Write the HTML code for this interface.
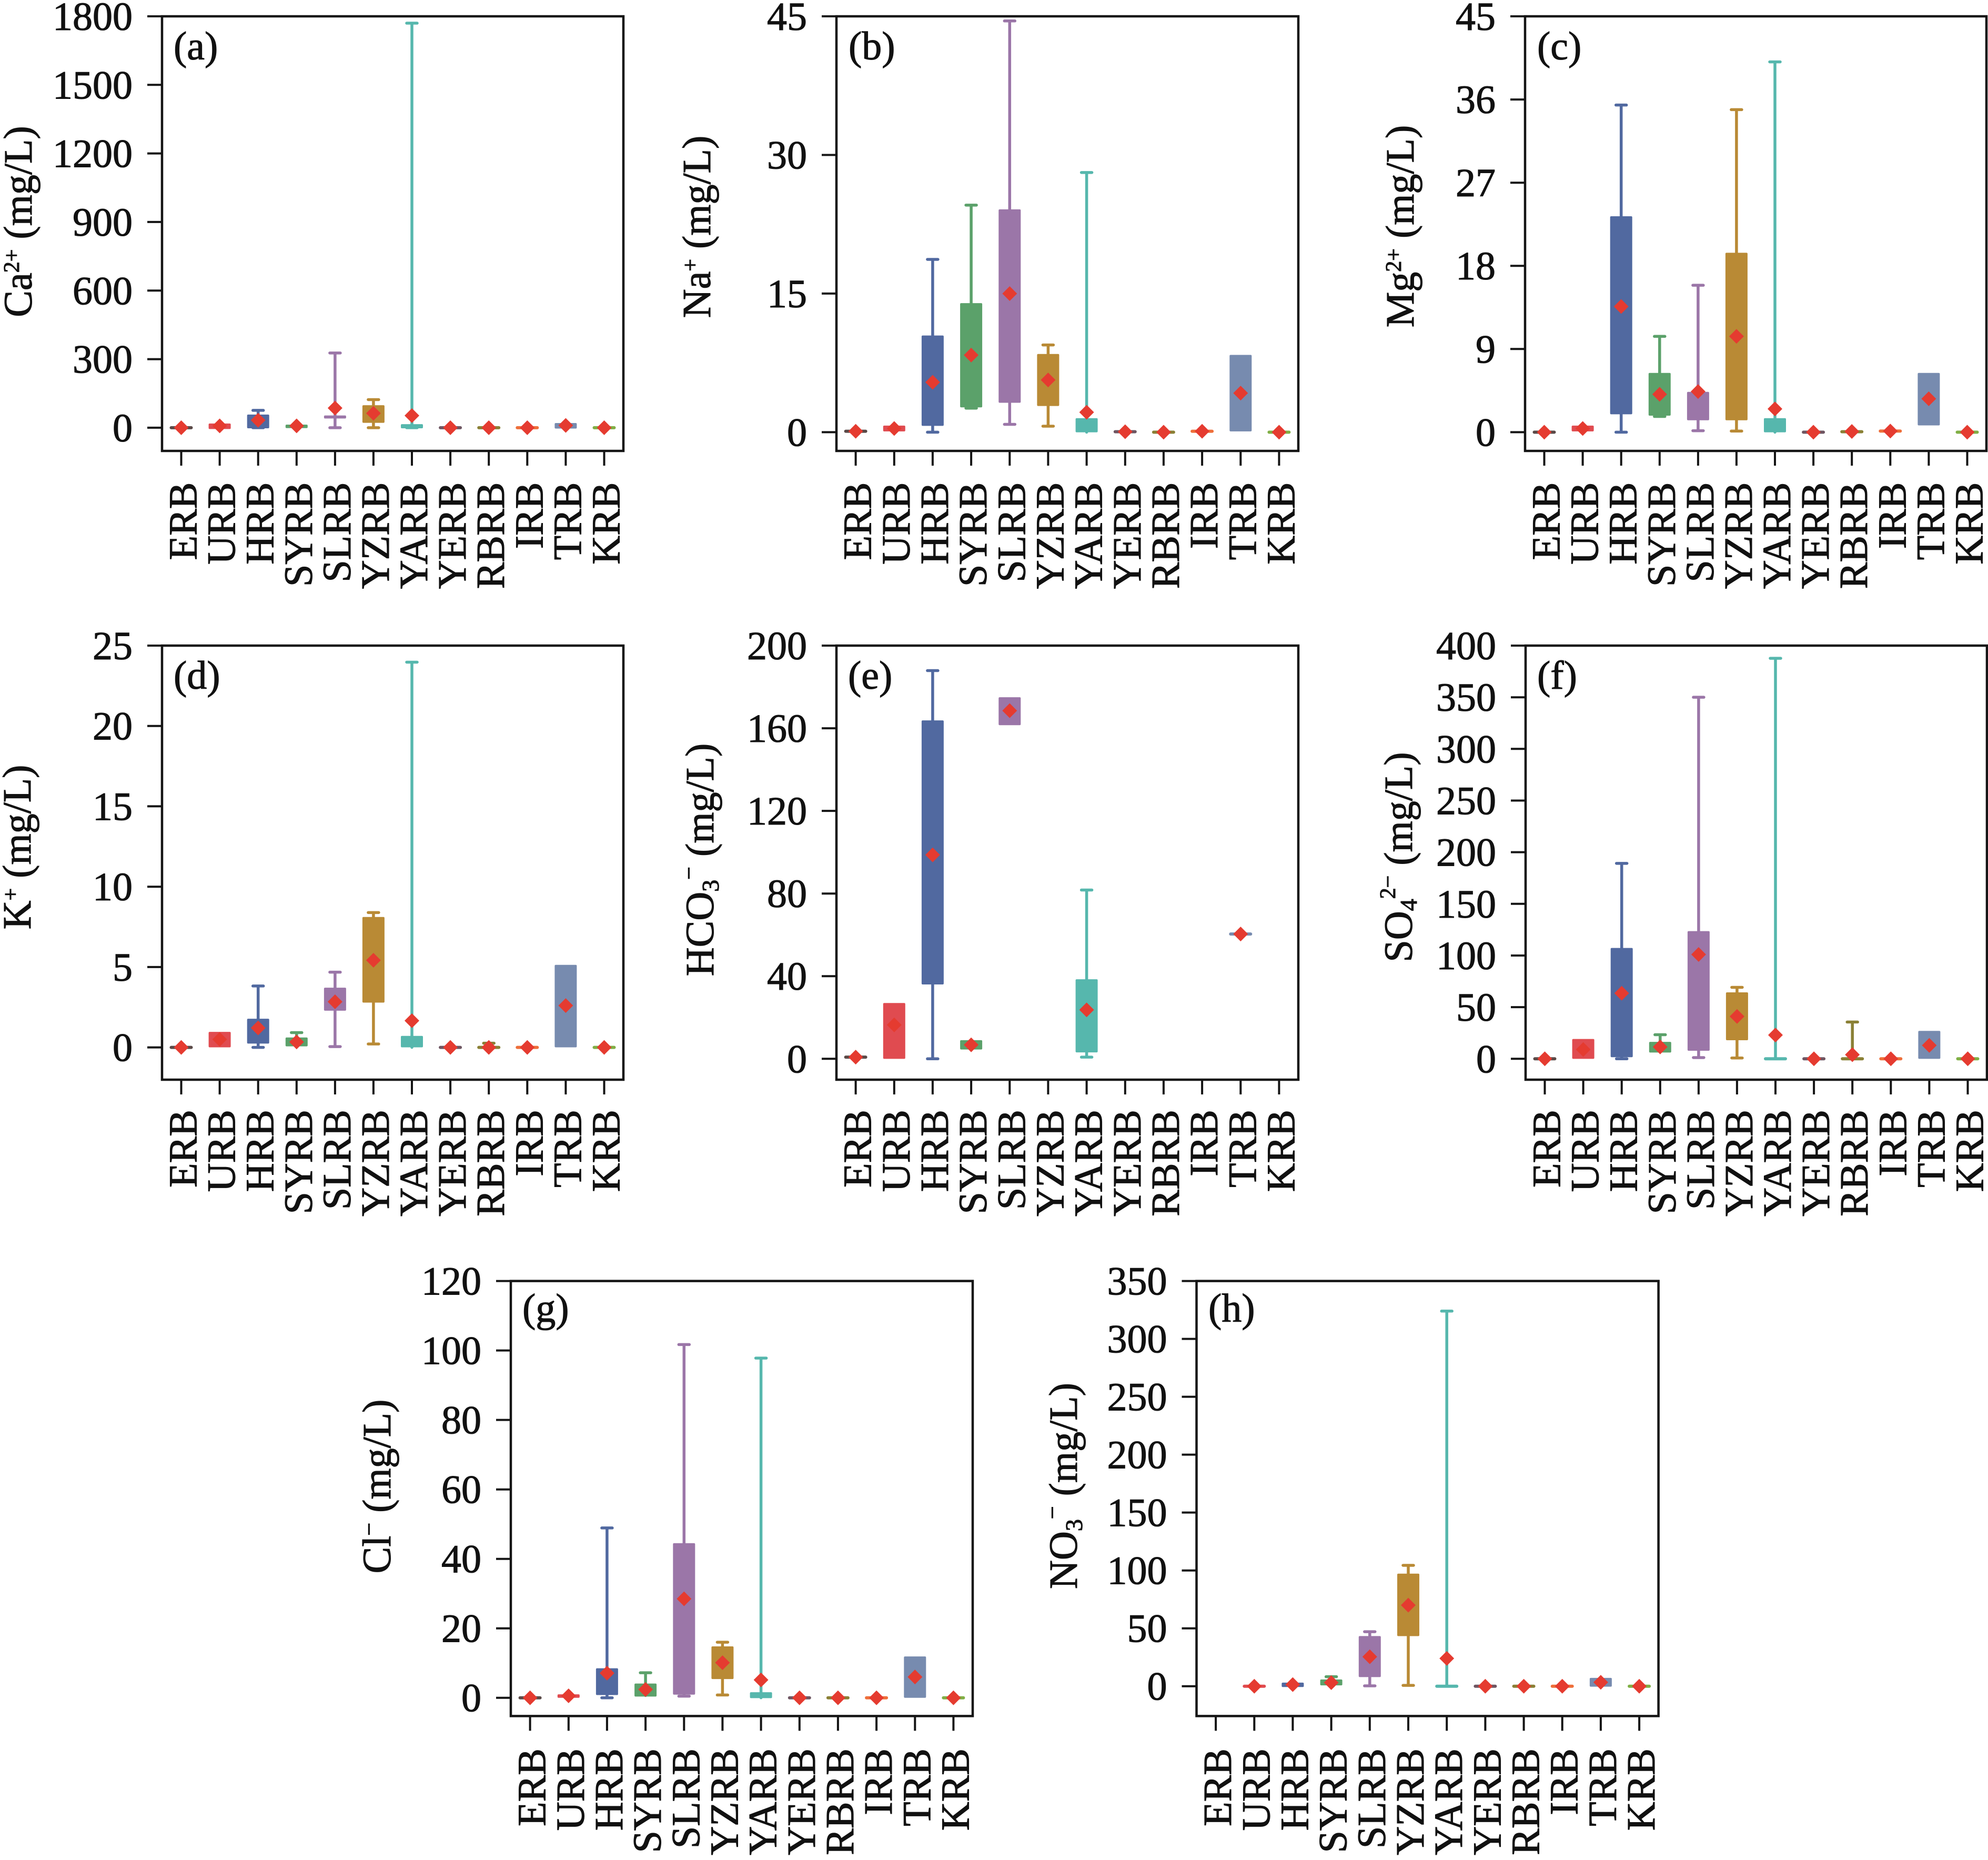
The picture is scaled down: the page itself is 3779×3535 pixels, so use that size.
<!DOCTYPE html>
<html><head><meta charset="utf-8"><style>
html,body{margin:0;padding:0;background:#fff;}
body{width:3779px;height:3535px;overflow:hidden;}
svg{display:block;}
text{font-family:"Liberation Serif","Times New Roman",serif;font-size:76px;fill:#111;stroke:#111;stroke-width:1.1px;}
.yt{text-anchor:end;}
.xt{text-anchor:end;}
.yl{text-anchor:middle;}
.fr{fill:none;stroke:#141414;stroke-width:4.5;}
.tk{fill:none;stroke:#141414;stroke-width:4;}
.w{fill:none;stroke:currentColor;stroke-width:5.5;stroke-linecap:round;vector-effect:non-scaling-stroke;}
.bx{fill:currentColor;stroke:currentColor;stroke-width:4;stroke-linejoin:round;vector-effect:non-scaling-stroke;}
.fl{fill:none;stroke:currentColor;stroke-width:6;stroke-linecap:round;vector-effect:non-scaling-stroke;}
.k0{color:#5a4a48}.k1{color:#e04b50}.k2{color:#5169a0}.k3{color:#5ba16a}.k4{color:#9b76a8}.k5{color:#b98a35}
.k6{color:#56b7ad}.k7{color:#6e5662}.k8{color:#8a8035}.k9{color:#ee6f3a}.k10{color:#778baf}.k11{color:#80af45}
</style></head><body>
<svg width="3779" height="3535" viewBox="0 0 3779 3535" xmlns="http://www.w3.org/2000/svg">
<defs><path id="m" d="M0,-14L14,0L0,14L-14,0Z" fill="#e53b30"/></defs>
<rect width="3779" height="3535" fill="#fff"/>

<!-- ===== Panel a ===== -->
<g transform="translate(0,812.9) scale(1,-0.43439)">
<g class="k0" transform="translate(344.5,0)"><path class="fl" d="M-19,0H19"/><use href="#m" transform="translate(0,0) scale(1,2.3021)"/></g>
<g class="k1" transform="translate(417.6,0)"><rect class="bx" x="-19" y="-1" width="38" height="15"/><use href="#m" transform="translate(0,8) scale(1,2.3021)"/></g>
<g class="k2" transform="translate(490.7,0)"><path class="w" d="M0,0V76M-10,0H10M-10,76H10"/><rect class="bx" x="-19" y="2" width="38" height="51"/><use href="#m" transform="translate(0,33) scale(1,2.3021)"/></g>
<g class="k3" transform="translate(563.8,0)"><rect class="bx" x="-19" y="3" width="38" height="6"/><use href="#m" transform="translate(0,8) scale(1,2.3021)"/></g>
<g class="k4" transform="translate(636.9,0)"><path class="w" d="M0,0V327M-10,0H10M-10,327H10"/><rect class="bx" x="-19" y="45" width="38" height="4"/><use href="#m" transform="translate(0,86) scale(1,2.3021)"/></g>
<g class="k5" transform="translate(709.9,0)"><path class="w" d="M0,0V123M-10,0H10M-10,123H10"/><rect class="bx" x="-19" y="26" width="38" height="68"/><use href="#m" transform="translate(0,63) scale(1,2.3021)"/></g>
<g class="k6" transform="translate(783.0,0)"><path class="w" d="M0,0V1770M-10,0H10M-10,1770H10"/><rect class="bx" x="-19" y="2" width="38" height="9"/><use href="#m" transform="translate(0,53) scale(1,2.3021)"/></g>
<g class="k7" transform="translate(856.1,0)"><path class="fl" d="M-19,0H19"/><use href="#m" transform="translate(0,0) scale(1,2.3021)"/></g>
<g class="k8" transform="translate(929.2,0)"><path class="fl" d="M-19,0H19"/><use href="#m" transform="translate(0,0) scale(1,2.3021)"/></g>
<g class="k9" transform="translate(1002.3,0)"><path class="fl" d="M-19,0H19"/><use href="#m" transform="translate(0,0) scale(1,2.3021)"/></g>
<g class="k10" transform="translate(1075.4,0)"><rect class="bx" x="-19" y="1" width="38" height="15"/><use href="#m" transform="translate(0,10) scale(1,2.3021)"/></g>
<g class="k11" transform="translate(1148.5,0)"><path class="fl" d="M-19,0H19"/><use href="#m" transform="translate(0,0) scale(1,2.3021)"/></g>
</g>
<rect class="fr" x="308" y="31" width="877" height="826"/>
<path class="tk" d="M280,31H308M280,161.3H308M280,291.6H308M280,421.9H308M280,552.3H308M280,682.6H308M280,812.9H308"/>
<path class="tk" d="M344.5,857v28M417.6,857v28M490.7,857v28M563.8,857v28M636.9,857v28M709.9,857v28M783,857v28M856.1,857v28M929.2,857v28M1002.3,857v28M1075.4,857v28M1148.5,857v28"/>
<text class="yt" x="252" y="57">1800</text>
<text class="yt" x="252" y="187.3">1500</text>
<text class="yt" x="252" y="317.6">1200</text>
<text class="yt" x="252" y="447.9">900</text>
<text class="yt" x="252" y="578.3">600</text>
<text class="yt" x="252" y="708.6">300</text>
<text class="yt" x="252" y="838.9">0</text>
<text x="330" y="113">(a)</text>
<text class="yl" transform="translate(60,421) rotate(-90)">Ca<tspan font-size="42" dy="-24">2+</tspan><tspan dy="24"> (mg/L)</tspan></text>
<g transform="translate(0,916.5)">
<text class="xt" transform="translate(373.5,0) rotate(-90)">ERB</text>
<text class="xt" transform="translate(446.6,0) rotate(-90)">URB</text>
<text class="xt" transform="translate(519.7,0) rotate(-90)">HRB</text>
<text class="xt" transform="translate(592.8,0) rotate(-90)">SYRB</text>
<text class="xt" transform="translate(665.9,0) rotate(-90)">SLRB</text>
<text class="xt" transform="translate(738.9,0) rotate(-90)">YZRB</text>
<text class="xt" transform="translate(812,0) rotate(-90)">YARB</text>
<text class="xt" transform="translate(885.1,0) rotate(-90)">YERB</text>
<text class="xt" transform="translate(958.2,0) rotate(-90)">RBRB</text>
<text class="xt" transform="translate(1031.3,0) rotate(-90)">IRB</text>
<text class="xt" transform="translate(1104.4,0) rotate(-90)">TRB</text>
<text class="xt" transform="translate(1177.5,0) rotate(-90)">KRB</text>
</g>

<!-- ===== Panel b ===== -->
<g transform="translate(0,821.4) scale(1,-17.564)">
<g class="k0" transform="translate(1626.6,0)"><path class="fl" d="M-19,0.1H19"/><use href="#m" transform="translate(0,0.1) scale(1,0.056935)"/></g>
<g class="k1" transform="translate(1699.8,0)"><rect class="bx" x="-19" y="0.2" width="38" height="0.4"/><use href="#m" transform="translate(0,0.4) scale(1,0.056935)"/></g>
<g class="k2" transform="translate(1772.9,0)"><path class="w" d="M0,0V18.7M-10,0H10M-10,18.7H10"/><rect class="bx" x="-19" y="0.8" width="38" height="9.55"/><use href="#m" transform="translate(0,5.4) scale(1,0.056935)"/></g>
<g class="k3" transform="translate(1846.1,0)"><path class="w" d="M0,2.6V24.57M-10,2.6H10M-10,24.57H10"/><rect class="bx" x="-19" y="2.8" width="38" height="11.05"/><use href="#m" transform="translate(0,8.34) scale(1,0.056935)"/></g>
<g class="k4" transform="translate(1919.3,0)"><path class="w" d="M0,0.85V44.5M-10,0.85H10M-10,44.5H10"/><rect class="bx" x="-19" y="3.3" width="38" height="20.7"/><use href="#m" transform="translate(0,15) scale(1,0.056935)"/></g>
<g class="k5" transform="translate(1992.4,0)"><path class="w" d="M0,0.65V9.44M-10,0.65H10M-10,9.44H10"/><rect class="bx" x="-19" y="2.95" width="38" height="5.4"/><use href="#m" transform="translate(0,5.65) scale(1,0.056935)"/></g>
<g class="k6" transform="translate(2065.6,0)"><path class="w" d="M0,0V28.1M-10,28.1H10"/><rect class="bx" x="-19" y="0.1" width="38" height="1.3"/><use href="#m" transform="translate(0,2.16) scale(1,0.056935)"/></g>
<g class="k7" transform="translate(2138.8,0)"><path class="fl" d="M-19,0.05H19"/><use href="#m" transform="translate(0,0.05) scale(1,0.056935)"/></g>
<g class="k8" transform="translate(2211.9,0)"><path class="fl" d="M-19,0H19"/><use href="#m" transform="translate(0,0) scale(1,0.056935)"/></g>
<g class="k9" transform="translate(2285.1,0)"><path class="fl" d="M-19,0.1H19"/><use href="#m" transform="translate(0,0.1) scale(1,0.056935)"/></g>
<g class="k10" transform="translate(2358.3,0)"><rect class="bx" x="-19" y="0.2" width="38" height="8.05"/><use href="#m" transform="translate(0,4.23) scale(1,0.056935)"/></g>
<g class="k11" transform="translate(2431.4,0)"><path class="fl" d="M-19,0H19"/><use href="#m" transform="translate(0,0) scale(1,0.056935)"/></g>
</g>
<rect class="fr" x="1590" y="31" width="878" height="826"/>
<path class="tk" d="M1562,31H1590M1562,294.5H1590M1562,557.9H1590M1562,821.4H1590"/>
<path class="tk" d="M1626.6,857v28M1699.8,857v28M1772.9,857v28M1846.1,857v28M1919.3,857v28M1992.4,857v28M2065.6,857v28M2138.8,857v28M2211.9,857v28M2285.1,857v28M2358.3,857v28M2431.4,857v28"/>
<text class="yt" x="1534" y="57">45</text>
<text class="yt" x="1534" y="320.5">30</text>
<text class="yt" x="1534" y="583.9">15</text>
<text class="yt" x="1534" y="847.4">0</text>
<text x="1613" y="113">(b)</text>
<text class="yl" transform="translate(1350,431) rotate(-90)">Na<tspan font-size="42" dy="-24">+</tspan><tspan dy="24"> (mg/L)</tspan></text>
<g transform="translate(0,916.5)">
<text class="xt" transform="translate(1655.6,0) rotate(-90)">ERB</text>
<text class="xt" transform="translate(1728.8,0) rotate(-90)">URB</text>
<text class="xt" transform="translate(1801.9,0) rotate(-90)">HRB</text>
<text class="xt" transform="translate(1875.1,0) rotate(-90)">SYRB</text>
<text class="xt" transform="translate(1948.3,0) rotate(-90)">SLRB</text>
<text class="xt" transform="translate(2021.4,0) rotate(-90)">YZRB</text>
<text class="xt" transform="translate(2094.6,0) rotate(-90)">YARB</text>
<text class="xt" transform="translate(2167.8,0) rotate(-90)">YERB</text>
<text class="xt" transform="translate(2240.9,0) rotate(-90)">RBRB</text>
<text class="xt" transform="translate(2314.1,0) rotate(-90)">IRB</text>
<text class="xt" transform="translate(2387.3,0) rotate(-90)">TRB</text>
<text class="xt" transform="translate(2460.4,0) rotate(-90)">KRB</text>
</g>

<!-- ===== Panel c ===== -->
<g transform="translate(0,821.4) scale(1,-17.564)">
<g class="k0" transform="translate(2935.5,0)"><path class="fl" d="M-19,0H19"/><use href="#m" transform="translate(0,0) scale(1,0.056935)"/></g>
<g class="k1" transform="translate(3008.6,0)"><rect class="bx" x="-19" y="0.2" width="38" height="0.4"/><use href="#m" transform="translate(0,0.4) scale(1,0.056935)"/></g>
<g class="k2" transform="translate(3081.7,0)"><path class="w" d="M0,0V35.4M-10,0H10M-10,35.4H10"/><rect class="bx" x="-19" y="2.05" width="38" height="21.2"/><use href="#m" transform="translate(0,13.6) scale(1,0.056935)"/></g>
<g class="k3" transform="translate(3154.8,0)"><path class="w" d="M0,1.7V10.37M-10,1.7H10M-10,10.37H10"/><rect class="bx" x="-19" y="1.9" width="38" height="4.4"/><use href="#m" transform="translate(0,4.1) scale(1,0.056935)"/></g>
<g class="k4" transform="translate(3227.9,0)"><path class="w" d="M0,0.16V15.9M-10,0.16H10M-10,15.9H10"/><rect class="bx" x="-19" y="1.4" width="38" height="2.85"/><use href="#m" transform="translate(0,4.4) scale(1,0.056935)"/></g>
<g class="k5" transform="translate(3300.9,0)"><path class="w" d="M0,0.12V34.9M-10,0.12H10M-10,34.9H10"/><rect class="bx" x="-19" y="1.4" width="38" height="17.9"/><use href="#m" transform="translate(0,10.37) scale(1,0.056935)"/></g>
<g class="k6" transform="translate(3374,0)"><path class="w" d="M0,0V40.07M-10,40.07H10"/><rect class="bx" x="-19" y="0.1" width="38" height="1.3"/><use href="#m" transform="translate(0,2.52) scale(1,0.056935)"/></g>
<g class="k7" transform="translate(3447.1,0)"><path class="fl" d="M-19,0H19"/><use href="#m" transform="translate(0,0) scale(1,0.056935)"/></g>
<g class="k8" transform="translate(3520.2,0)"><path class="fl" d="M-19,0.05H19"/><use href="#m" transform="translate(0,0.08) scale(1,0.056935)"/></g>
<g class="k9" transform="translate(3593.3,0)"><path class="fl" d="M-19,0.12H19"/><use href="#m" transform="translate(0,0.12) scale(1,0.056935)"/></g>
<g class="k10" transform="translate(3666.4,0)"><rect class="bx" x="-19" y="0.85" width="38" height="5.45"/><use href="#m" transform="translate(0,3.62) scale(1,0.056935)"/></g>
<g class="k11" transform="translate(3739.5,0)"><path class="fl" d="M-19,0H19"/><use href="#m" transform="translate(0,0) scale(1,0.056935)"/></g>
</g>
<rect class="fr" x="2899" y="31" width="877" height="826"/>
<path class="tk" d="M2871,31H2899M2871,189.1H2899M2871,347.2H2899M2871,505.2H2899M2871,663.3H2899M2871,821.4H2899"/>
<path class="tk" d="M2935.5,857v28M3008.6,857v28M3081.7,857v28M3154.8,857v28M3227.9,857v28M3300.9,857v28M3374,857v28M3447.1,857v28M3520.2,857v28M3593.3,857v28M3666.4,857v28M3739.5,857v28"/>
<text class="yt" x="2843" y="57">45</text>
<text class="yt" x="2843" y="215.1">36</text>
<text class="yt" x="2843" y="373.2">27</text>
<text class="yt" x="2843" y="531.2">18</text>
<text class="yt" x="2843" y="689.3">9</text>
<text class="yt" x="2843" y="847.4">0</text>
<text x="2922" y="113">(c)</text>
<text class="yl" transform="translate(2687,430) rotate(-90)">Mg<tspan font-size="42" dy="-24">2+</tspan><tspan dy="24"> (mg/L)</tspan></text>
<g transform="translate(0,916.5)">
<text class="xt" transform="translate(2964.5,0) rotate(-90)">ERB</text>
<text class="xt" transform="translate(3037.6,0) rotate(-90)">URB</text>
<text class="xt" transform="translate(3110.7,0) rotate(-90)">HRB</text>
<text class="xt" transform="translate(3183.8,0) rotate(-90)">SYRB</text>
<text class="xt" transform="translate(3256.9,0) rotate(-90)">SLRB</text>
<text class="xt" transform="translate(3329.9,0) rotate(-90)">YZRB</text>
<text class="xt" transform="translate(3403,0) rotate(-90)">YARB</text>
<text class="xt" transform="translate(3476.1,0) rotate(-90)">YERB</text>
<text class="xt" transform="translate(3549.2,0) rotate(-90)">RBRB</text>
<text class="xt" transform="translate(3622.3,0) rotate(-90)">IRB</text>
<text class="xt" transform="translate(3695.4,0) rotate(-90)">TRB</text>
<text class="xt" transform="translate(3768.5,0) rotate(-90)">KRB</text>
</g>

<!-- ===== Panel d ===== -->
<g transform="translate(0,1990.6) scale(1,-30.544)">
<g class="k0" transform="translate(344.5,0)"><path class="fl" d="M-19,0H19"/><use href="#m" transform="translate(0,0) scale(1,0.03274)"/></g>
<g class="k1" transform="translate(417.6,0)"><rect class="bx" x="-19" y="0.07" width="38" height="0.83"/><use href="#m" transform="translate(0,0.5) scale(1,0.03274)"/></g>
<g class="k2" transform="translate(490.7,0)"><path class="w" d="M0,0V3.82M-10,0H10M-10,3.82H10"/><rect class="bx" x="-19" y="0.3" width="38" height="1.42"/><use href="#m" transform="translate(0,1.21) scale(1,0.03274)"/></g>
<g class="k3" transform="translate(563.8,0)"><path class="w" d="M0,0.13V0.92M-10,0.92H10"/><rect class="bx" x="-19" y="0.13" width="38" height="0.42"/><use href="#m" transform="translate(0,0.34) scale(1,0.03274)"/></g>
<g class="k4" transform="translate(636.9,0)"><path class="w" d="M0,0.05V4.68M-10,0.05H10M-10,4.68H10"/><rect class="bx" x="-19" y="2.35" width="38" height="1.3"/><use href="#m" transform="translate(0,2.84) scale(1,0.03274)"/></g>
<g class="k5" transform="translate(709.9,0)"><path class="w" d="M0,0.21V8.39M-10,0.21H10M-10,8.39H10"/><rect class="bx" x="-19" y="2.85" width="38" height="5.2"/><use href="#m" transform="translate(0,5.42) scale(1,0.03274)"/></g>
<g class="k6" transform="translate(783,0)"><path class="w" d="M0,0V23.97M-10,23.97H10"/><rect class="bx" x="-19" y="0.07" width="38" height="0.58"/><use href="#m" transform="translate(0,1.66) scale(1,0.03274)"/></g>
<g class="k7" transform="translate(856.1,0)"><path class="fl" d="M-19,0H19"/><use href="#m" transform="translate(0,0) scale(1,0.03274)"/></g>
<g class="k8" transform="translate(929.2,0)"><path class="w" d="M0,0V0.26M-10,0.26H10"/><path class="fl" d="M-19,0H19"/><use href="#m" transform="translate(0,0) scale(1,0.03274)"/></g>
<g class="k9" transform="translate(1002.3,0)"><path class="fl" d="M-19,0H19"/><use href="#m" transform="translate(0,0) scale(1,0.03274)"/></g>
<g class="k10" transform="translate(1075.4,0)"><rect class="bx" x="-19" y="0.07" width="38" height="5"/><use href="#m" transform="translate(0,2.6) scale(1,0.03274)"/></g>
<g class="k11" transform="translate(1148.5,0)"><path class="fl" d="M-19,0H19"/><use href="#m" transform="translate(0,0) scale(1,0.03274)"/></g>
</g>
<rect class="fr" x="308" y="1227" width="877" height="825"/>
<path class="tk" d="M280,1227H308M280,1379.7H308M280,1532.4H308M280,1685.2H308M280,1837.9H308M280,1990.6H308"/>
<path class="tk" d="M344.5,2052v28M417.6,2052v28M490.7,2052v28M563.8,2052v28M636.9,2052v28M709.9,2052v28M783,2052v28M856.1,2052v28M929.2,2052v28M1002.3,2052v28M1075.4,2052v28M1148.5,2052v28"/>
<text class="yt" x="252" y="1253">25</text>
<text class="yt" x="252" y="1405.7">20</text>
<text class="yt" x="252" y="1558.4">15</text>
<text class="yt" x="252" y="1711.2">10</text>
<text class="yt" x="252" y="1863.9">5</text>
<text class="yt" x="252" y="2016.6">0</text>
<text x="330" y="1309">(d)</text>
<text class="yl" transform="translate(58,1610) rotate(-90)">K<tspan font-size="42" dy="-24">+</tspan><tspan dy="24"> (mg/L)</tspan></text>
<g transform="translate(0,2109)">
<text class="xt" transform="translate(373.5,0) rotate(-90)">ERB</text>
<text class="xt" transform="translate(446.6,0) rotate(-90)">URB</text>
<text class="xt" transform="translate(519.7,0) rotate(-90)">HRB</text>
<text class="xt" transform="translate(592.8,0) rotate(-90)">SYRB</text>
<text class="xt" transform="translate(665.9,0) rotate(-90)">SLRB</text>
<text class="xt" transform="translate(738.9,0) rotate(-90)">YZRB</text>
<text class="xt" transform="translate(812,0) rotate(-90)">YARB</text>
<text class="xt" transform="translate(885.1,0) rotate(-90)">YERB</text>
<text class="xt" transform="translate(958.2,0) rotate(-90)">RBRB</text>
<text class="xt" transform="translate(1031.3,0) rotate(-90)">IRB</text>
<text class="xt" transform="translate(1104.4,0) rotate(-90)">TRB</text>
<text class="xt" transform="translate(1177.5,0) rotate(-90)">KRB</text>
</g>

<!-- ===== Panel e ===== -->
<g transform="translate(0,2012.3) scale(1,-3.9265)">
<g class="k0" transform="translate(1626.6,0)"><path class="fl" d="M-19,0.8H19"/><use href="#m" transform="translate(0,0.8) scale(1,0.25468)"/></g>
<g class="k1" transform="translate(1699.8,0)"><rect class="bx" x="-19" y="0.5" width="38" height="26"/><use href="#m" transform="translate(0,16.4) scale(1,0.25468)"/></g>
<g class="k2" transform="translate(1772.9,0)"><path class="w" d="M0,0V187.9M-10,0H10M-10,187.9H10"/><rect class="bx" x="-19" y="36.5" width="38" height="126.8"/><use href="#m" transform="translate(0,98.7) scale(1,0.25468)"/></g>
<g class="k3" transform="translate(1846.1,0)"><rect class="bx" x="-19" y="5" width="38" height="3.5"/><use href="#m" transform="translate(0,6.75) scale(1,0.25468)"/></g>
<g class="k4" transform="translate(1919.3,0)"><rect class="bx" x="-19" y="162" width="38" height="12.5"/><use href="#m" transform="translate(0,168.5) scale(1,0.25468)"/></g>
<g class="k6" transform="translate(2065.6,0)"><path class="w" d="M0,0.8V81.7M-10,0.8H10M-10,81.7H10"/><rect class="bx" x="-19" y="3.6" width="38" height="34.4"/><use href="#m" transform="translate(0,23.7) scale(1,0.25468)"/></g>
<g class="k10" transform="translate(2358.3,0)"><path class="fl" d="M-19,60.4H19"/><use href="#m" transform="translate(0,60.4) scale(1,0.25468)"/></g>
</g>
<rect class="fr" x="1590" y="1227" width="878" height="825"/>
<path class="tk" d="M1562,1227H1590M1562,1384.1H1590M1562,1541.1H1590M1562,1698.2H1590M1562,1855.2H1590M1562,2012.3H1590"/>
<path class="tk" d="M1626.6,2052v28M1699.8,2052v28M1772.9,2052v28M1846.1,2052v28M1919.3,2052v28M1992.4,2052v28M2065.6,2052v28M2138.8,2052v28M2211.9,2052v28M2285.1,2052v28M2358.3,2052v28M2431.4,2052v28"/>
<text class="yt" x="1534" y="1253">200</text>
<text class="yt" x="1534" y="1410.1">160</text>
<text class="yt" x="1534" y="1567.1">120</text>
<text class="yt" x="1534" y="1724.2">80</text>
<text class="yt" x="1534" y="1881.2">40</text>
<text class="yt" x="1534" y="2038.3">0</text>
<text x="1612" y="1309">(e)</text>
<text class="yl" transform="translate(1356,1634) rotate(-90)">HCO<tspan font-size="46" dy="10">3</tspan><tspan font-size="44" dy="-42">−</tspan><tspan dy="32"> (mg/L)</tspan></text>
<g transform="translate(0,2109)">
<text class="xt" transform="translate(1655.6,0) rotate(-90)">ERB</text>
<text class="xt" transform="translate(1728.8,0) rotate(-90)">URB</text>
<text class="xt" transform="translate(1801.9,0) rotate(-90)">HRB</text>
<text class="xt" transform="translate(1875.1,0) rotate(-90)">SYRB</text>
<text class="xt" transform="translate(1948.3,0) rotate(-90)">SLRB</text>
<text class="xt" transform="translate(2021.4,0) rotate(-90)">YZRB</text>
<text class="xt" transform="translate(2094.6,0) rotate(-90)">YARB</text>
<text class="xt" transform="translate(2167.8,0) rotate(-90)">YERB</text>
<text class="xt" transform="translate(2240.9,0) rotate(-90)">RBRB</text>
<text class="xt" transform="translate(2314.1,0) rotate(-90)">IRB</text>
<text class="xt" transform="translate(2387.3,0) rotate(-90)">TRB</text>
<text class="xt" transform="translate(2460.4,0) rotate(-90)">KRB</text>
</g>

<!-- ===== Panel f ===== -->
<g transform="translate(0,2012.3) scale(1,-1.9633)">
<g class="k0" transform="translate(2936.5,0)"><path class="fl" d="M-19,0H19"/><use href="#m" transform="translate(0,0) scale(1,0.50935)"/></g>
<g class="k1" transform="translate(3009.6,0)"><rect class="bx" x="-19" y="1" width="38" height="17.2"/><use href="#m" transform="translate(0,9) scale(1,0.50935)"/></g>
<g class="k2" transform="translate(3082.7,0)"><path class="w" d="M0,0V189.2M-10,0H10M-10,189.2H10"/><rect class="bx" x="-19" y="2.6" width="38" height="103.7"/><use href="#m" transform="translate(0,63.5) scale(1,0.50935)"/></g>
<g class="k3" transform="translate(3155.8,0)"><path class="w" d="M0,7.1V23.3M-10,23.3H10"/><rect class="bx" x="-19" y="7.1" width="38" height="8.3"/><use href="#m" transform="translate(0,11.5) scale(1,0.50935)"/></g>
<g class="k4" transform="translate(3228.9,0)"><path class="w" d="M0,1.2V350M-10,1.2H10M-10,350H10"/><rect class="bx" x="-19" y="8.8" width="38" height="113.8"/><use href="#m" transform="translate(0,101) scale(1,0.50935)"/></g>
<g class="k5" transform="translate(3301.9,0)"><path class="w" d="M0,0.8V69.2M-10,0.8H10M-10,69.2H10"/><rect class="bx" x="-19" y="19" width="38" height="44.3"/><use href="#m" transform="translate(0,41) scale(1,0.50935)"/></g>
<g class="k6" transform="translate(3375,0)"><path class="w" d="M0,0V387.7M-10,387.7H10"/><path class="fl" d="M-19,0H19"/><use href="#m" transform="translate(0,23) scale(1,0.50935)"/></g>
<g class="k7" transform="translate(3448.1,0)"><path class="fl" d="M-19,0H19"/><use href="#m" transform="translate(0,0) scale(1,0.50935)"/></g>
<g class="k8" transform="translate(3521.2,0)"><path class="w" d="M0,0V35.6M-10,35.6H10"/><path class="fl" d="M-19,0H19"/><use href="#m" transform="translate(0,4) scale(1,0.50935)"/></g>
<g class="k9" transform="translate(3594.3,0)"><path class="fl" d="M-19,0H19"/><use href="#m" transform="translate(0,0) scale(1,0.50935)"/></g>
<g class="k10" transform="translate(3667.4,0)"><rect class="bx" x="-19" y="1" width="38" height="25"/><use href="#m" transform="translate(0,13) scale(1,0.50935)"/></g>
<g class="k11" transform="translate(3740.5,0)"><path class="fl" d="M-19,0H19"/><use href="#m" transform="translate(0,0) scale(1,0.50935)"/></g>
</g>
<rect class="fr" x="2900" y="1227" width="877" height="825"/>
<path class="tk" d="M2872,1227H2900M2872,1325.2H2900M2872,1423.3H2900M2872,1521.5H2900M2872,1619.6H2900M2872,1717.8H2900M2872,1816H2900M2872,1914.1H2900M2872,2012.3H2900"/>
<path class="tk" d="M2936.5,2052v28M3009.6,2052v28M3082.7,2052v28M3155.8,2052v28M3228.9,2052v28M3301.9,2052v28M3375,2052v28M3448.1,2052v28M3521.2,2052v28M3594.3,2052v28M3667.4,2052v28M3740.5,2052v28"/>
<text class="yt" x="2844" y="1253">400</text>
<text class="yt" x="2844" y="1351.2">350</text>
<text class="yt" x="2844" y="1449.3">300</text>
<text class="yt" x="2844" y="1547.5">250</text>
<text class="yt" x="2844" y="1645.6">200</text>
<text class="yt" x="2844" y="1743.8">150</text>
<text class="yt" x="2844" y="1842">100</text>
<text class="yt" x="2844" y="1940.1">50</text>
<text class="yt" x="2844" y="2038.3">0</text>
<text x="2922" y="1309">(f)</text>
<text class="yl" transform="translate(2684,1629) rotate(-90)">SO<tspan font-size="46" dy="9">4</tspan><tspan font-size="42" dy="-41">2−</tspan><tspan dy="32"> (mg/L)</tspan></text>
<g transform="translate(0,2109)">
<text class="xt" transform="translate(2965.5,0) rotate(-90)">ERB</text>
<text class="xt" transform="translate(3038.6,0) rotate(-90)">URB</text>
<text class="xt" transform="translate(3111.7,0) rotate(-90)">HRB</text>
<text class="xt" transform="translate(3184.8,0) rotate(-90)">SYRB</text>
<text class="xt" transform="translate(3257.9,0) rotate(-90)">SLRB</text>
<text class="xt" transform="translate(3330.9,0) rotate(-90)">YZRB</text>
<text class="xt" transform="translate(3404,0) rotate(-90)">YARB</text>
<text class="xt" transform="translate(3477.1,0) rotate(-90)">YERB</text>
<text class="xt" transform="translate(3550.2,0) rotate(-90)">RBRB</text>
<text class="xt" transform="translate(3623.3,0) rotate(-90)">IRB</text>
<text class="xt" transform="translate(3696.4,0) rotate(-90)">TRB</text>
<text class="xt" transform="translate(3769.5,0) rotate(-90)">KRB</text>
</g>

<!-- ===== Panel g ===== -->
<g transform="translate(0,3226.7) scale(1,-6.601)">
<g class="k0" transform="translate(1007.6,0)"><path class="fl" d="M-19,0H19"/><use href="#m" transform="translate(0,0) scale(1,0.15149)"/></g>
<g class="k1" transform="translate(1080.8,0)"><rect class="bx" x="-19" y="0.3" width="38" height="0.4"/><use href="#m" transform="translate(0,0.57) scale(1,0.15149)"/></g>
<g class="k2" transform="translate(1153.9,0)"><path class="w" d="M0,0V48.9M-10,0H10M-10,48.9H10"/><rect class="bx" x="-19" y="1.1" width="38" height="7.1"/><use href="#m" transform="translate(0,7.1) scale(1,0.15149)"/></g>
<g class="k3" transform="translate(1227.1,0)"><path class="w" d="M0,0.65V7.2M-10,7.2H10"/><rect class="bx" x="-19" y="0.65" width="38" height="3.15"/><use href="#m" transform="translate(0,2.4) scale(1,0.15149)"/></g>
<g class="k4" transform="translate(1300.3,0)"><path class="w" d="M0,0.46V101.7M-10,0.46H10M-10,101.7H10"/><rect class="bx" x="-19" y="1.2" width="38" height="43"/><use href="#m" transform="translate(0,28.5) scale(1,0.15149)"/></g>
<g class="k5" transform="translate(1373.4,0)"><path class="w" d="M0,0.8V16M-10,0.8H10M-10,16H10"/><rect class="bx" x="-19" y="5.7" width="38" height="8.8"/><use href="#m" transform="translate(0,10.1) scale(1,0.15149)"/></g>
<g class="k6" transform="translate(1446.6,0)"><path class="w" d="M0,0V97.8M-10,97.8H10"/><rect class="bx" x="-19" y="0.2" width="38" height="1.1"/><use href="#m" transform="translate(0,5.15) scale(1,0.15149)"/></g>
<g class="k7" transform="translate(1519.8,0)"><path class="fl" d="M-19,0H19"/><use href="#m" transform="translate(0,0) scale(1,0.15149)"/></g>
<g class="k8" transform="translate(1592.9,0)"><path class="fl" d="M-19,0H19"/><use href="#m" transform="translate(0,0) scale(1,0.15149)"/></g>
<g class="k9" transform="translate(1666.1,0)"><path class="fl" d="M-19,0H19"/><use href="#m" transform="translate(0,0) scale(1,0.15149)"/></g>
<g class="k10" transform="translate(1739.3,0)"><rect class="bx" x="-19" y="0.3" width="38" height="11.3"/><use href="#m" transform="translate(0,6) scale(1,0.15149)"/></g>
<g class="k11" transform="translate(1812.4,0)"><path class="fl" d="M-19,0H19"/><use href="#m" transform="translate(0,0) scale(1,0.15149)"/></g>
</g>
<rect class="fr" x="971" y="2434.6" width="878" height="826.8"/>
<path class="tk" d="M943,2434.6H971M943,2566.6H971M943,2698.6H971M943,2830.7H971M943,2962.7H971M943,3094.7H971M943,3226.7H971"/>
<path class="tk" d="M1007.6,3261.4v28M1080.8,3261.4v28M1153.9,3261.4v28M1227.1,3261.4v28M1300.3,3261.4v28M1373.4,3261.4v28M1446.6,3261.4v28M1519.8,3261.4v28M1592.9,3261.4v28M1666.1,3261.4v28M1739.3,3261.4v28M1812.4,3261.4v28"/>
<text class="yt" x="915" y="2460.6">120</text>
<text class="yt" x="915" y="2592.6">100</text>
<text class="yt" x="915" y="2724.6">80</text>
<text class="yt" x="915" y="2856.7">60</text>
<text class="yt" x="915" y="2988.7">40</text>
<text class="yt" x="915" y="3120.7">20</text>
<text class="yt" x="915" y="3252.7">0</text>
<text x="993" y="2511.6">(g)</text>
<text class="yl" transform="translate(742,2825) rotate(-90)">Cl<tspan font-size="44" dy="-26">−</tspan><tspan dy="26"> (mg/L)</tspan></text>
<g transform="translate(0,3323)">
<text class="xt" transform="translate(1036.6,0) rotate(-90)">ERB</text>
<text class="xt" transform="translate(1109.8,0) rotate(-90)">URB</text>
<text class="xt" transform="translate(1182.9,0) rotate(-90)">HRB</text>
<text class="xt" transform="translate(1256.1,0) rotate(-90)">SYRB</text>
<text class="xt" transform="translate(1329.3,0) rotate(-90)">SLRB</text>
<text class="xt" transform="translate(1402.4,0) rotate(-90)">YZRB</text>
<text class="xt" transform="translate(1475.6,0) rotate(-90)">YARB</text>
<text class="xt" transform="translate(1548.8,0) rotate(-90)">YERB</text>
<text class="xt" transform="translate(1621.9,0) rotate(-90)">RBRB</text>
<text class="xt" transform="translate(1695.1,0) rotate(-90)">IRB</text>
<text class="xt" transform="translate(1768.3,0) rotate(-90)">TRB</text>
<text class="xt" transform="translate(1841.4,0) rotate(-90)">KRB</text>
</g>

<!-- ===== Panel h ===== -->
<g transform="translate(0,3204.7) scale(1,-2.2003)">
<g class="k1" transform="translate(2384.3,0)"><path class="fl" d="M-19,0H19"/><use href="#m" transform="translate(0,0) scale(1,0.45448)"/></g>
<g class="k2" transform="translate(2457.4,0)"><rect class="bx" x="-19" y="0.2" width="38" height="2"/><use href="#m" transform="translate(0,1.4) scale(1,0.45448)"/></g>
<g class="k3" transform="translate(2530.6,0)"><path class="w" d="M0,1.6V8.2M-10,8.2H10"/><rect class="bx" x="-19" y="1.6" width="38" height="3.3"/><use href="#m" transform="translate(0,3.1) scale(1,0.45448)"/></g>
<g class="k4" transform="translate(2603.8,0)"><path class="w" d="M0,0.3V47.1M-10,0.3H10M-10,47.1H10"/><rect class="bx" x="-19" y="8.8" width="38" height="33.6"/><use href="#m" transform="translate(0,25.4) scale(1,0.45448)"/></g>
<g class="k5" transform="translate(2677,0)"><path class="w" d="M0,0.7V104.4M-10,0.7H10M-10,104.4H10"/><rect class="bx" x="-19" y="44.2" width="38" height="52.1"/><use href="#m" transform="translate(0,70) scale(1,0.45448)"/></g>
<g class="k6" transform="translate(2750.2,0)"><path class="w" d="M0,0V324M-10,324H10"/><path class="fl" d="M-19,0H19"/><use href="#m" transform="translate(0,24) scale(1,0.45448)"/></g>
<g class="k7" transform="translate(2823.4,0)"><path class="fl" d="M-19,0H19"/><use href="#m" transform="translate(0,0) scale(1,0.45448)"/></g>
<g class="k8" transform="translate(2896.6,0)"><path class="fl" d="M-19,0H19"/><use href="#m" transform="translate(0,0) scale(1,0.45448)"/></g>
<g class="k9" transform="translate(2969.7,0)"><path class="fl" d="M-19,0H19"/><use href="#m" transform="translate(0,0) scale(1,0.45448)"/></g>
<g class="k10" transform="translate(3042.9,0)"><rect class="bx" x="-19" y="0.5" width="38" height="5.8"/><use href="#m" transform="translate(0,3.4) scale(1,0.45448)"/></g>
<g class="k11" transform="translate(3116.1,0)"><path class="fl" d="M-19,0H19"/><use href="#m" transform="translate(0,0) scale(1,0.45448)"/></g>
</g>
<rect class="fr" x="2274.5" y="2434.6" width="878.1" height="826.8"/>
<path class="tk" d="M2246.5,2434.6H2274.5M2246.5,2544.6H2274.5M2246.5,2654.6H2274.5M2246.5,2764.6H2274.5M2246.5,2874.6H2274.5M2246.5,2984.7H2274.5M2246.5,3094.7H2274.5M2246.5,3204.7H2274.5"/>
<path class="tk" d="M2311.1,3261.4v28M2384.3,3261.4v28M2457.4,3261.4v28M2530.6,3261.4v28M2603.8,3261.4v28M2677,3261.4v28M2750.2,3261.4v28M2823.4,3261.4v28M2896.6,3261.4v28M2969.7,3261.4v28M3042.9,3261.4v28M3116.1,3261.4v28"/>
<text class="yt" x="2218.5" y="2460.6">350</text>
<text class="yt" x="2218.5" y="2570.6">300</text>
<text class="yt" x="2218.5" y="2680.6">250</text>
<text class="yt" x="2218.5" y="2790.6">200</text>
<text class="yt" x="2218.5" y="2900.6">150</text>
<text class="yt" x="2218.5" y="3010.7">100</text>
<text class="yt" x="2218.5" y="3120.7">50</text>
<text class="yt" x="2218.5" y="3230.7">0</text>
<text x="2297" y="2511.6">(h)</text>
<text class="yl" transform="translate(2047,2824) rotate(-90)">NO<tspan font-size="46" dy="10">3</tspan><tspan font-size="44" dy="-42">−</tspan><tspan dy="32"> (mg/L)</tspan></text>
<g transform="translate(0,3323)">
<text class="xt" transform="translate(2340.1,0) rotate(-90)">ERB</text>
<text class="xt" transform="translate(2413.3,0) rotate(-90)">URB</text>
<text class="xt" transform="translate(2486.4,0) rotate(-90)">HRB</text>
<text class="xt" transform="translate(2559.6,0) rotate(-90)">SYRB</text>
<text class="xt" transform="translate(2632.8,0) rotate(-90)">SLRB</text>
<text class="xt" transform="translate(2706,0) rotate(-90)">YZRB</text>
<text class="xt" transform="translate(2779.2,0) rotate(-90)">YARB</text>
<text class="xt" transform="translate(2852.4,0) rotate(-90)">YERB</text>
<text class="xt" transform="translate(2925.6,0) rotate(-90)">RBRB</text>
<text class="xt" transform="translate(2998.7,0) rotate(-90)">IRB</text>
<text class="xt" transform="translate(3071.9,0) rotate(-90)">TRB</text>
<text class="xt" transform="translate(3145.1,0) rotate(-90)">KRB</text>
</g>
</svg>
</body></html>
